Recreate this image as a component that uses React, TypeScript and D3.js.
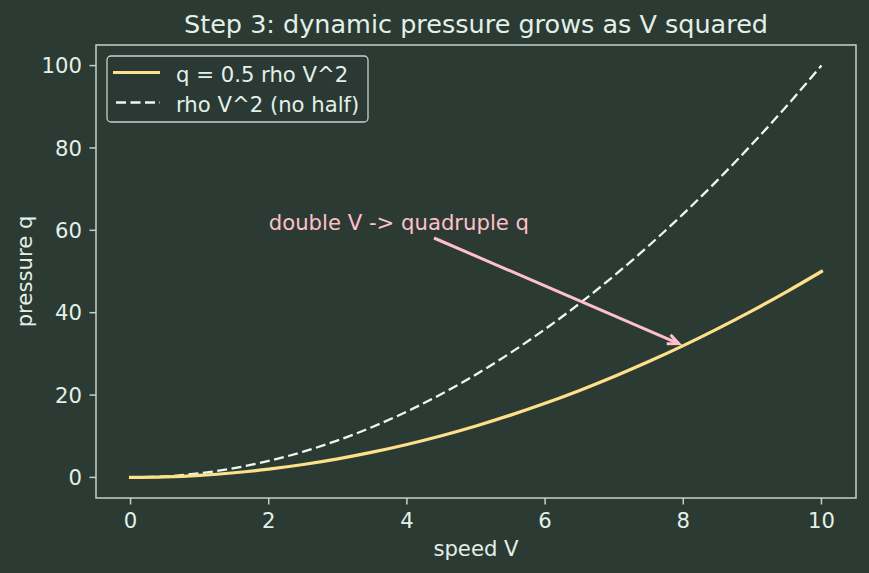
import React from "react";
import * as d3 from "d3";

const speeds = [0, 0.5, 1, 1.5, 2, 2.5, 3, 3.5, 4, 4.5, 5, 5.5, 6, 6.5, 7, 7.5, 8, 8.5, 9, 9.5, 10];
const halfQ = [0, 0.125, 0.5, 1.125, 2, 3.125, 4.5, 6.125, 8, 10.125, 12.5, 15.125, 18, 21.125, 24.5, 28.125, 32, 36.125, 40.5, 45.125, 50];
const fullQ = [0, 0.25, 1, 2.25, 4, 6.25, 9, 12.25, 16, 20.25, 25, 30.25, 36, 42.25, 49, 56.25, 64, 72.25, 81, 90.25, 100];
const xTicks = [0, 2, 4, 6, 8, 10];
const yTicks = [0, 20, 40, 60, 80, 100];
const seriesLabels = ["q = 0.5 rho V^2", "rho V^2 (no half)"];
const annotationText = "double V -> quadruple q";
const annotationFrom = [2, 60];
const annotationTo = [8, 32];

const W = 869, H = 573;
const L = 96, R = 856, T = 45, B = 498;
const BG = "#2b3a33";
const FG = "#e3f0e8";
const SPINE = "#c3d3ca";
const YEL = "#ffe08a";
const PINK = "#ffc0cb";
const WHITE = "#eef8f2";
const FONT = "DejaVu Sans, sans-serif";
const FS = 21.2;

export default function App() {
  const x = d3.scaleLinear().domain([-0.5, 10.5]).range([L, R]);
  const y = d3.scaleLinear().domain([-5, 105]).range([B, T]);
  const lineHalf = d3.line<number>().x((_, i) => x(speeds[i])).y((d) => y(d)).curve(d3.curveCatmullRom);
  const lineFull = d3.line<number>().x((_, i) => x(speeds[i])).y((d) => y(d)).curve(d3.curveCatmullRom);

  // arrow from text end to point
  const sx = 434, sy = 238;
  const tx0 = x(annotationTo[0]), ty0 = y(annotationTo[1]);
  const ang = Math.atan2(ty0 - sy, tx0 - sx);
  const tx = tx0 - Math.cos(ang) * 5, ty = ty0 - Math.sin(ang) * 5;
  const hl = 12, ha = 0.42;
  const h1 = [tx - hl * Math.cos(ang - ha), ty - hl * Math.sin(ang - ha)];
  const h2 = [tx - hl * Math.cos(ang + ha), ty - hl * Math.sin(ang + ha)];

  return (
    <svg width={W} height={H} style={{ position: "absolute", left: 0, top: 0 }} fontFamily={FONT}>
      <rect x={0} y={0} width={W} height={H} fill={BG} />
      <text x={(L + R) / 2} y={33} fill={FG} fontSize={25.5} textAnchor="middle">Step 3: dynamic pressure grows as V squared</text>
      {/* curves */}
      <path d={lineFull(fullQ) || ""} fill="none" stroke={WHITE} strokeWidth={2.3} strokeDasharray="10,4.5" />
      <path d={lineHalf(halfQ) || ""} fill="none" stroke={YEL} strokeWidth={3.2} strokeLinecap="square" />
      {/* annotation */}
      <text x={x(annotationFrom[0])} y={y(annotationFrom[1])} fill={PINK} fontSize={FS}>{annotationText}</text>
      <line x1={sx} y1={sy} x2={tx} y2={ty} stroke={PINK} strokeWidth={3} />
      <path d={`M${h1[0]},${h1[1]}L${tx},${ty}L${h2[0]},${h2[1]}`} fill="none" stroke={PINK} strokeWidth={3} />
      {/* spines */}
      <rect x={L} y={T} width={R - L} height={B - T} fill="none" stroke={SPINE} strokeWidth={1.5} />
      {xTicks.map((t) => (
        <g key={"x" + t}>
          <line x1={x(t)} x2={x(t)} y1={B} y2={B + 6.5} stroke={SPINE} strokeWidth={1.5} />
          <text x={x(t)} y={528} fill={FG} fontSize={FS} textAnchor="middle">{t}</text>
        </g>
      ))}
      {yTicks.map((t) => (
        <g key={"y" + t}>
          <line x1={L - 6.5} x2={L} y1={y(t)} y2={y(t)} stroke={SPINE} strokeWidth={1.5} />
          <text x={L - 14} y={y(t) + 7.6} fill={FG} fontSize={FS} textAnchor="end">{t}</text>
        </g>
      ))}
      <text x={(L + R) / 2} y={556} fill={FG} fontSize={FS} textAnchor="middle">speed V</text>
      <text transform={`translate(31.5,${(T + B) / 2}) rotate(-90)`} fill={FG} fontSize={FS} textAnchor="middle">pressure q</text>
      {/* legend */}
      <rect x={107} y={56} width={261} height={66} rx={4} fill={BG} fillOpacity={0.8} stroke={SPINE} strokeWidth={1.3} />
      <line x1={113} x2={160} y1={72.5} y2={72.5} stroke={YEL} strokeWidth={3.2} />
      <line x1={116} x2={160} y1={102.5} y2={102.5} stroke={WHITE} strokeWidth={2.3} strokeDasharray="10,4.5" />
      <text x={176} y={81.5} fill={FG} fontSize={FS}>{seriesLabels[0]}</text>
      <text x={176} y={111.5} fill={FG} fontSize={FS}>{seriesLabels[1]}</text>
    </svg>
  );
}
